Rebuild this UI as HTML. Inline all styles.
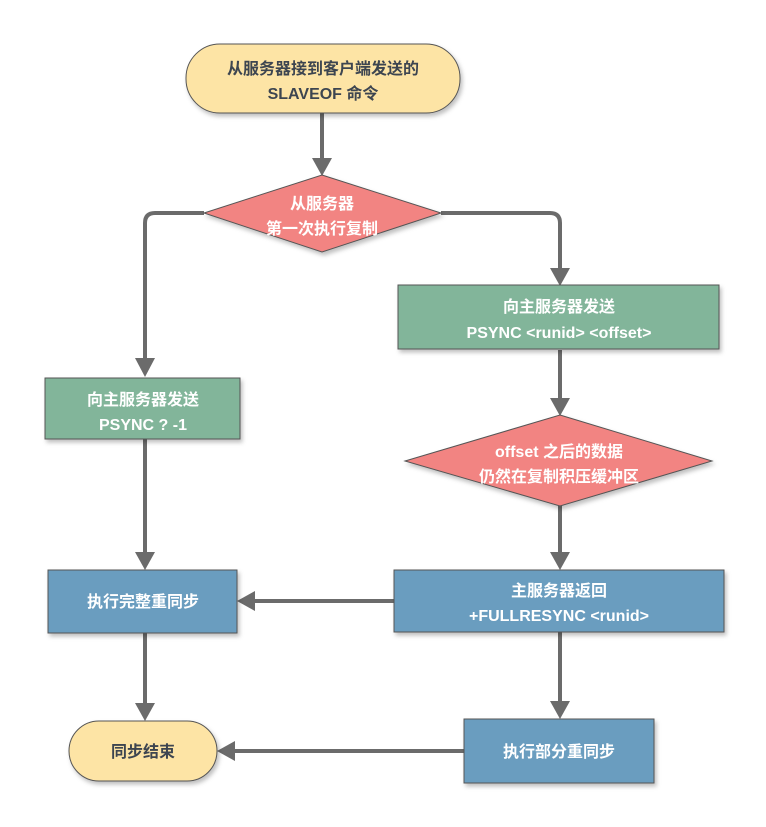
<!DOCTYPE html>
<html><head><meta charset="utf-8"><style>
html,body{margin:0;padding:0;background:#fff;}
svg{display:block}
text{font-family:"Liberation Sans","Noto Sans CJK SC",sans-serif;font-weight:bold;font-size:16px;text-anchor:middle;}
</style></head><body>
<svg width="766" height="827" viewBox="0 0 766 827" xmlns="http://www.w3.org/2000/svg">
<defs>
<marker id="a" markerWidth="8" markerHeight="8" refX="6" refY="4" orient="auto" markerUnits="userSpaceOnUse" viewBox="0 0 8 8">
</marker>
<filter id="s" x="-10%" y="-10%" width="130%" height="140%"><feDropShadow dx="2" dy="3" stdDeviation="2" flood-color="#000" flood-opacity="0.25"/></filter>
</defs>
<g stroke="#6b6b6b" stroke-width="4" fill="none">
<line x1="322" y1="113" x2="322" y2="160"/>
<path d="M204 213 H155 Q145 213 145 223 V360"/>
<path d="M441 213 H550 Q560 213 560 223 V270"/>
<line x1="560" y1="350" x2="560" y2="400"/>
<line x1="560" y1="505" x2="560" y2="554"/>
<line x1="145" y1="439" x2="145" y2="554"/>
<line x1="394" y1="601" x2="253" y2="601"/>
<line x1="145" y1="633" x2="145" y2="705"/>
<line x1="560" y1="632" x2="560" y2="703"/>
<line x1="464" y1="751" x2="233" y2="751"/>
</g>
<g fill="#6b6b6b">
<polygon points="312,158 332,158 322,176"/>
<polygon points="135,358 155,358 145,377"/>
<polygon points="550,268 570,268 560,286"/>
<polygon points="550,398 570,398 560,416"/>
<polygon points="550,552 570,552 560,570"/>
<polygon points="135,552 155,552 145,570"/>
<polygon points="255,591 255,611 237,601"/>
<polygon points="135,703 155,703 145,721"/>
<polygon points="550,701 570,701 560,719"/>
<polygon points="235,741 235,761 217,751"/>
</g>
<g stroke="#555" stroke-width="1" filter="url(#s)">
<rect x="186" y="44" width="274" height="69" rx="34" fill="#fde4a5"/>
<polygon points="322,175 441,213 322,252 204,213" fill="#f28482"/>
<rect x="398" y="285" width="321" height="64" fill="#82b59a"/>
<rect x="45" y="378" width="195" height="61" fill="#82b59a"/>
<polygon points="560,415 712,461 560,506 405,461" fill="#f28482"/>
<rect x="394" y="570" width="330" height="62" fill="#6a9dbf"/>
<rect x="48" y="570" width="189" height="63" fill="#6a9dbf"/>
<rect x="69" y="721" width="148" height="60" rx="30" fill="#fde4a5"/>
<rect x="464" y="719" width="190" height="64" fill="#6a9dbf"/>
</g>
<g fill="#3d4550">
<text x="323" y="74">从服务器接到客户端发送的</text>
<text x="323" y="99">SLAVEOF 命令</text>
<text x="143" y="757">同步结束</text>
</g>
<g fill="#fff">
<text x="322" y="209">从服务器</text>
<text x="322" y="234">第一次执行复制</text>
<text x="559" y="312">向主服务器发送</text>
<text x="559" y="338">PSYNC &lt;runid&gt; &lt;offset&gt;</text>
<text x="143" y="405">向主服务器发送</text>
<text x="143" y="430">PSYNC ? -1</text>
<text x="559" y="457">offset 之后的数据</text>
<text x="559" y="482">仍然在复制积压缓冲区</text>
<text x="559" y="596">主服务器返回</text>
<text x="559" y="621">+FULLRESYNC &lt;runid&gt;</text>
<text x="143" y="607">执行完整重同步</text>
<text x="559" y="757">执行部分重同步</text>
</g>
</svg>
</body></html>
